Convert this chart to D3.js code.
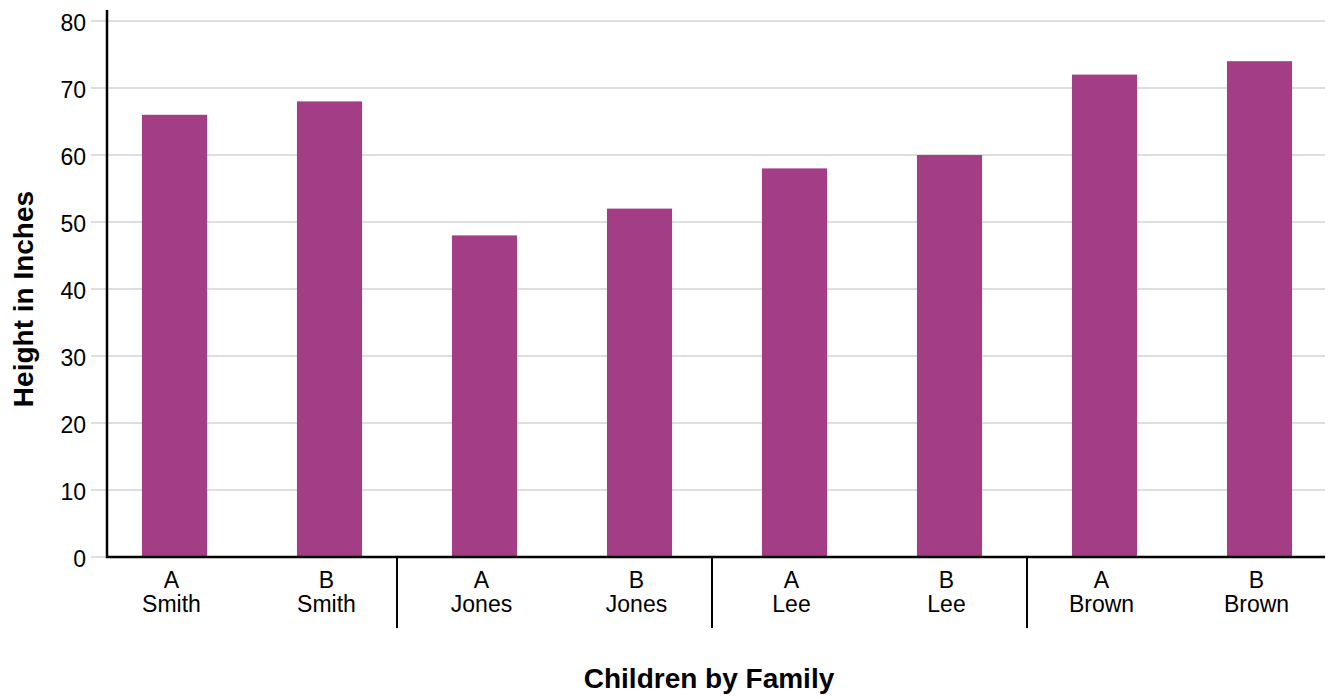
<!DOCTYPE html>
<html>
<head>
<meta charset="utf-8">
<script src="https://cdn.jsdelivr.net/npm/d3@7"></script>
<style>
  body { margin: 0; background: #fff; }
  svg { display: block; font-family: "Liberation Sans", Arial, Helvetica, sans-serif; }
</style>
</head>
<body>
<svg id="chart" width="1330" height="698"></svg>
<script>
// Heights of each child, grouped by family
const children = ["A", "B", "A", "B", "A", "B", "A", "B"];
const families = ["Smith", "Smith", "Jones", "Jones", "Lee", "Lee", "Brown", "Brown"];
const familyGroups = ["Smith", "Jones", "Lee", "Brown"];
const heights = [66, 68, 48, 52, 58, 60, 72, 74];
const yTicks = [0, 10, 20, 30, 40, 50, 60, 70, 80];

const svg = d3.select("#chart");
const barColor = "#a33e86";

const axisX = 107, baseY = 557, topY = 21, rightX = 1325;

const y = d3.scaleLinear().domain([0, 80]).range([baseY, topY]);

const keys = children.map((c, i) => i);
const x = d3.scaleBand().domain(keys).range([97, 1337]).paddingInner(0.58).paddingOuter(0.29);
const xGroup = d3.scaleBand().domain(familyGroups).range([82, 1342]);

// Horizontal gridlines with left tick marks
svg.append("g").selectAll("line").data(yTicks).join("line")
  .attr("x1", 91).attr("x2", rightX)
  .attr("y1", d => y(d)).attr("y2", d => y(d))
  .attr("stroke", "#bdbdbd").attr("stroke-width", 1.2);

// Y tick labels
svg.append("g").selectAll("text").data(yTicks).join("text")
  .attr("x", 86).attr("y", d => y(d))
  .attr("dy", "0.45em")
  .attr("text-anchor", "end")
  .attr("font-size", 23)
  .attr("fill", "#000")
  .text(d => d);

// Bars
svg.append("g").selectAll("rect").data(keys).join("rect")
  .attr("x", i => x(i))
  .attr("width", x.bandwidth())
  .attr("y", i => y(heights[i]))
  .attr("height", i => baseY - y(heights[i]))
  .attr("fill", barColor);

// Axis lines
svg.append("line")
  .attr("x1", axisX).attr("x2", axisX)
  .attr("y1", 10).attr("y2", baseY + 1)
  .attr("stroke", "#000").attr("stroke-width", 2.5);
svg.append("line")
  .attr("x1", axisX - 1).attr("x2", rightX)
  .attr("y1", baseY).attr("y2", baseY)
  .attr("stroke", "#000").attr("stroke-width", 2.5);

// Family separators below the x axis
svg.append("g").selectAll("line").data(familyGroups.slice(1)).join("line")
  .attr("x1", d => xGroup(d)).attr("x2", d => xGroup(d))
  .attr("y1", baseY).attr("y2", 628)
  .attr("stroke", "#000").attr("stroke-width", 2);

// Category labels: child letter over family name
const labels = svg.append("g").selectAll("g").data(keys).join("g")
  .attr("transform", i => `translate(${x(i) + x.bandwidth() / 2 - 3},0)`);
labels.append("text")
  .attr("y", 588).attr("text-anchor", "middle").attr("font-size", 23)
  .text(i => children[i]);
labels.append("text")
  .attr("y", 612).attr("text-anchor", "middle").attr("font-size", 23)
  .text(i => families[i]);

// Axis titles
svg.append("text")
  .attr("x", 709).attr("y", 688)
  .attr("text-anchor", "middle")
  .attr("font-size", 28).attr("font-weight", "bold")
  .text("Children by Family");
svg.append("text")
  .attr("transform", "translate(33,299) rotate(-90)")
  .attr("text-anchor", "middle")
  .attr("font-size", 28).attr("font-weight", "bold")
  .text("Height in Inches");
</script>
</body>
</html>
